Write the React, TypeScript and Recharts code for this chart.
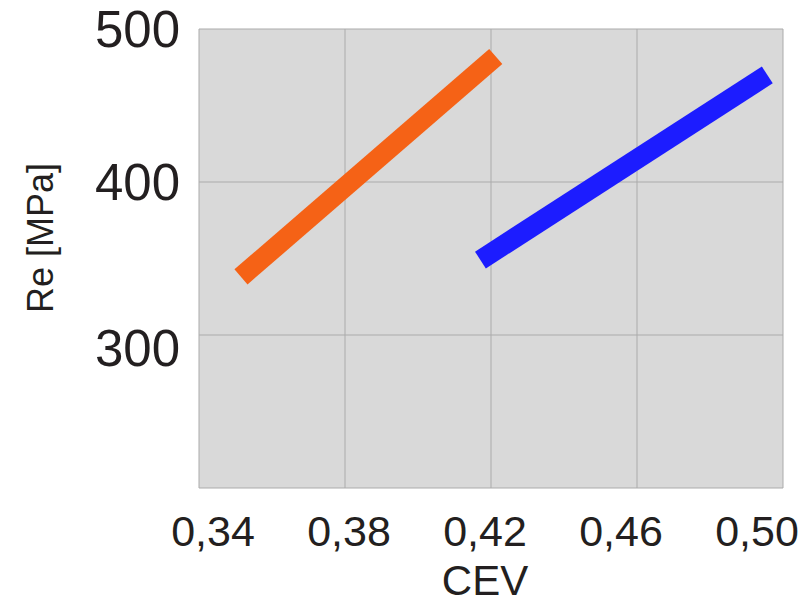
import { LineChart, Line, XAxis, YAxis, CartesianGrid } from 'recharts'

const orangeCev = [0.3515, 0.4213]
const orangeRe = [338, 482]
const blueCev = [0.4171, 0.4957]
const blueRe = [349, 470]

const xTicks = [0.34, 0.38, 0.42, 0.46, 0.5]
const yTicks = [200, 300, 400, 500]

const orangeData = orangeCev.map((cev, i) => ({ cev, re: orangeRe[i] }))
const blueData = blueCev.map((cev, i) => ({ cev, re: blueRe[i] }))

const FONT = '"Liberation Sans", Arial, sans-serif'
const TEXT = '#231f20'

function fmtCev(v: number) {
  return v.toFixed(2).replace('.', ',')
}

function YTick({ x, y, payload }: any) {
  if (payload.value === 200) return null
  // the lowest label sits a bit under its grid line in the original
  const shift = payload.value === 300 ? 13 : 0
  return (
    <text x={x} y={y + shift} dy="0.36em" textAnchor="end" fontSize={51} fill={TEXT} fontFamily={FONT}>
      {payload.value}
    </text>
  )
}

// the original squeezes its x labels a little inward so the last one fits
function XTick({ x, y, payload }: any) {
  const lx = 213 + (x - 199) * (544 / 584)
  return (
    <text x={lx} y={y} dy="0.71em" textAnchor="middle" fontSize={43} fill={TEXT} fontFamily={FONT}>
      {fmtCev(payload.value)}
    </text>
  )
}

function YLabel() {
  return (
    <text x={53} y={238} transform="rotate(-90 53 238)" textAnchor="middle" fontSize={36} fill={TEXT} fontFamily={FONT}>
      Re [MPa]
    </text>
  )
}

function XLabel() {
  return (
    <text x={485} y={595} textAnchor="middle" fontSize={42} fill={TEXT} fontFamily={FONT}>
      CEV
    </text>
  )
}

export default function App() {
  return (
    <div style={{ position: 'absolute', left: 0, top: 0, width: 811, height: 605, background: '#fff' }}>
      <LineChart width={811} height={605} margin={{ top: 29, right: 28, left: 0, bottom: 0 }}>
        <CartesianGrid fill="#d9d9d9" stroke="#ababab" />
        <XAxis
          type="number"
          dataKey="cev"
          domain={[0.34, 0.5]}
          ticks={xTicks}
          allowDataOverflow
          axisLine={false}
          tickLine={false}
          height={117}
          tickMargin={21}
          tick={<XTick />}
          label={<XLabel />}
        />
        <YAxis
          type="number"
          dataKey="re"
          domain={[200, 500]}
          ticks={yTicks}
          allowDataOverflow
          axisLine={false}
          tickLine={false}
          width={199}
          tickMargin={13}
          tick={<YTick />}
          label={<YLabel />}
        />
        <Line data={orangeData} dataKey="re" stroke="#f56216" strokeWidth={20} dot={false} isAnimationActive={false} />
        <Line data={blueData} dataKey="re" stroke="#1c1cff" strokeWidth={20} dot={false} isAnimationActive={false} />
      </LineChart>
    </div>
  )
}
